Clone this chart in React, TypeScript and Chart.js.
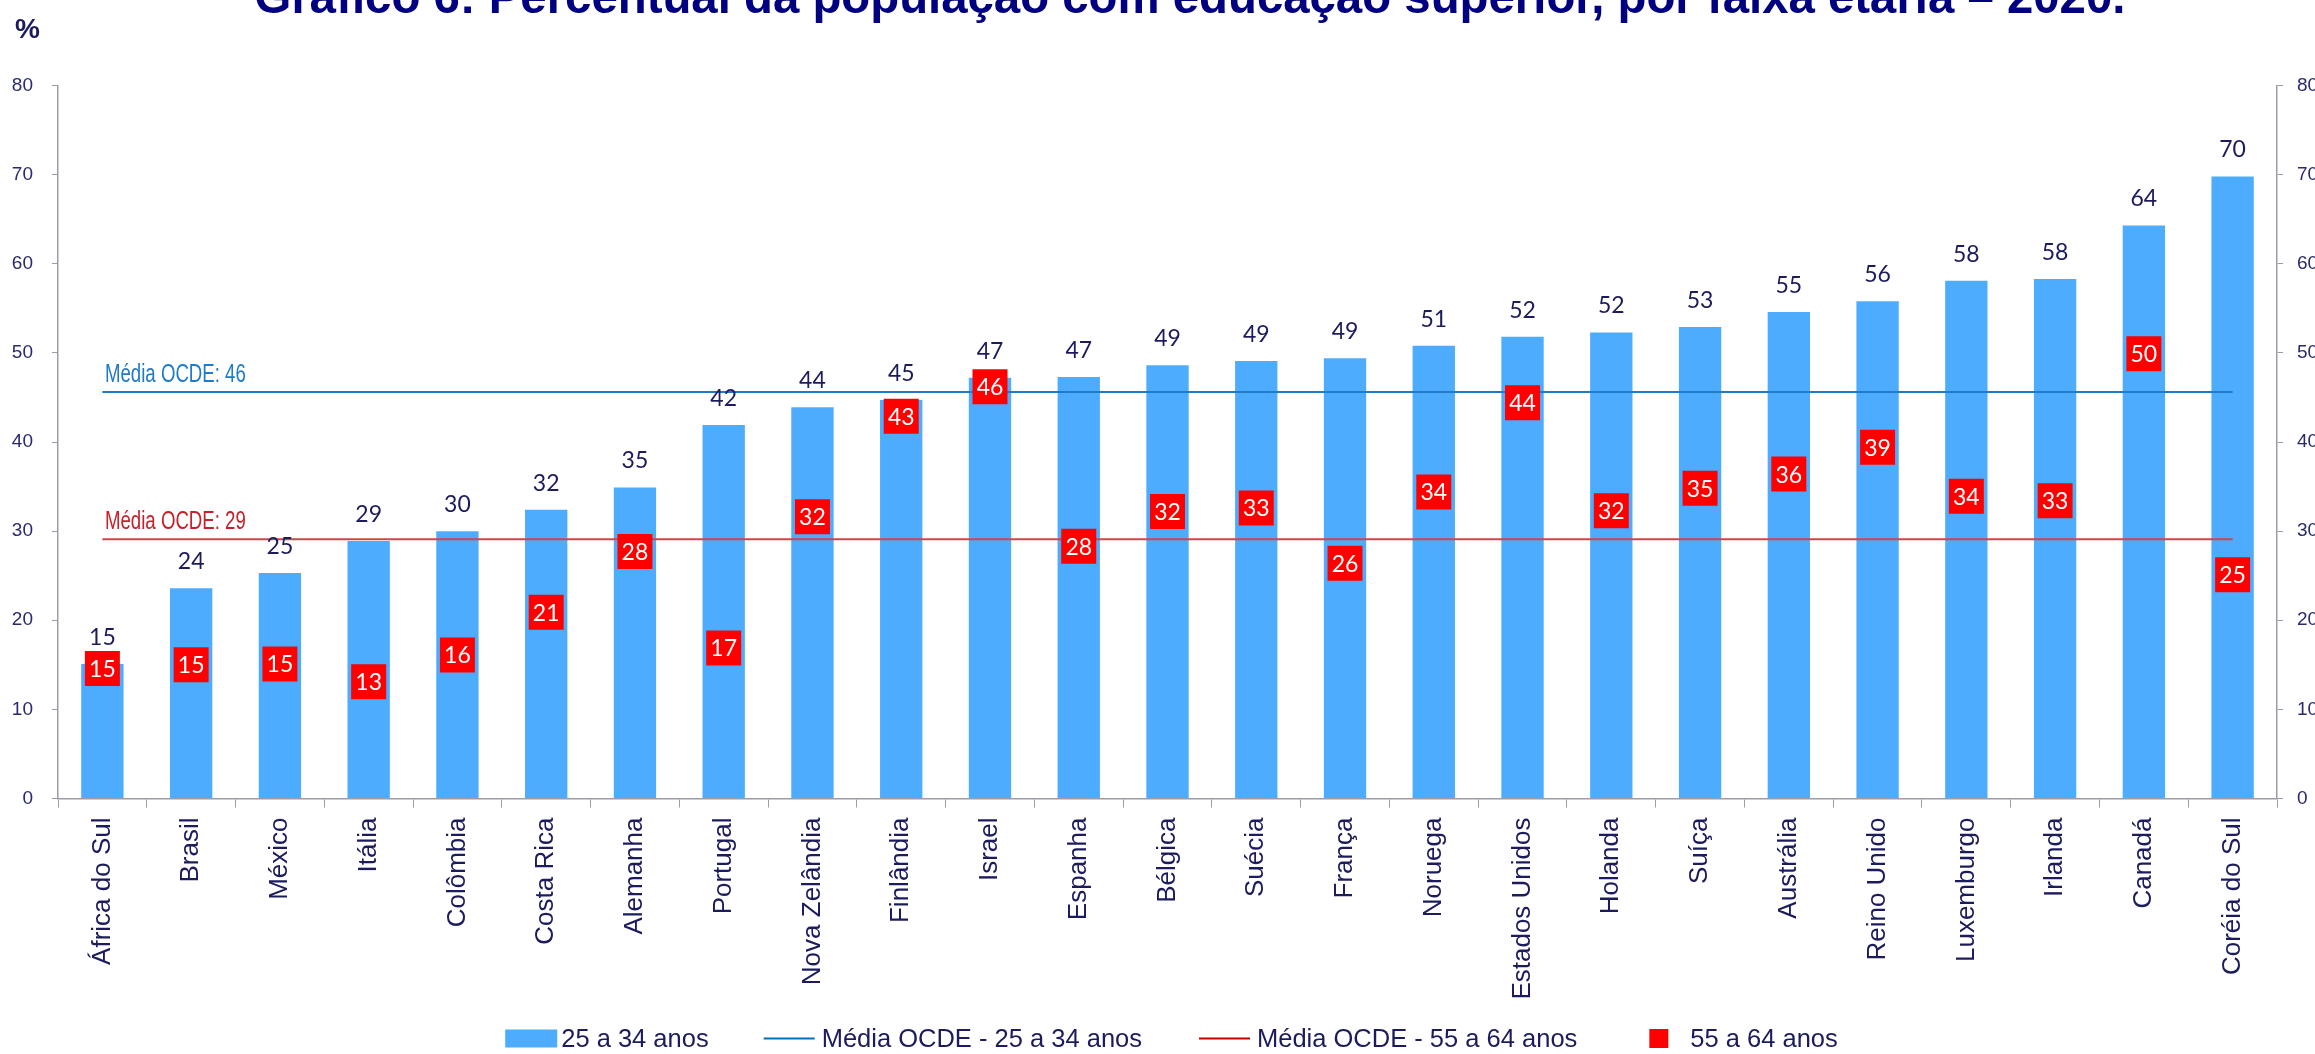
import React, { useEffect, useRef } from 'react';
import { Chart, registerables } from 'chart.js';

Chart.register(...registerables);

const CANVAS_W = 2332;
const CANVAS_H = 1054;

const title = 'Gráfico 6: Percentual da população com educação superior, por faixa etária – 2020.';
const unitLabel = '%';

const categories = [
  'África do Sul', 'Brasil', 'México', 'Itália', 'Colômbia', 'Costa Rica', 'Alemanha',
  'Portugal', 'Nova Zelândia', 'Finlândia', 'Israel', 'Espanha', 'Bélgica', 'Suécia',
  'França', 'Noruega', 'Estados Unidos', 'Holanda', 'Suíça', 'Austrália', 'Reino Unido',
  'Luxemburgo', 'Irlanda', 'Canadá', 'Coréia do Sul',
];

const values2534 = [
  15.1, 23.6, 25.3, 28.9, 30.0, 32.4, 34.9, 41.9, 43.9, 44.7, 47.2, 47.3, 48.6,
  49.1, 49.4, 50.8, 51.8, 52.3, 52.9, 54.6, 55.8, 58.1, 58.3, 64.3, 69.8,
];

const values5564 = [
  14.6, 15.0, 15.1, 13.1, 16.1, 20.9, 27.7, 16.9, 31.6, 42.9, 46.2, 28.3, 32.2,
  32.6, 26.4, 34.4, 44.4, 32.3, 34.8, 36.4, 39.4, 33.9, 33.4, 49.9, 25.1,
];

const oecdAvg2534 = 45.6;
const oecdAvg5564 = 29.1;
const oecdLabel2534 = 'Média OCDE: 46';
const oecdLabel5564 = 'Média OCDE: 29';

const yMin = 0;
const yMax = 80;
const yStep = 10;

const seriesNames = ['25 a 34 anos', 'Média OCDE - 25 a 34 anos', 'Média OCDE - 55 a 64 anos', '55 a 64 anos'];

const NAVY = '#1b1b5e';
const TICK_NAVY = '#2a2a70';
const AXIS_GRAY = '#9c9ca8';
const BAR_BLUE = '#4eacfe';
const LINE_BLUE = '#1f7ac9';
const LINE_RED = '#d0444a';
const LABEL_RED = '#c8202a';
const BOX_RED = '#ff0000';

function condensedText(ctx: CanvasRenderingContext2D, text: string, x: number, y: number, k: number) {
  ctx.save();
  ctx.translate(x, y);
  ctx.scale(k, 1);
  ctx.fillText(text, 0, 0);
  ctx.restore();
}

const overlayPlugin = {
  id: 'overlay',
  afterDatasetsDraw(chart: any) {
    const ctx = chart.ctx as CanvasRenderingContext2D;
    const area = chart.chartArea;
    const ys = chart.scales.y;

    ctx.save();
    // values above bars
    const barMeta = chart.getDatasetMeta(0);
    ctx.font = '23px Lato';
    ctx.fillStyle = NAVY;
    ctx.textAlign = 'center';
    ctx.textBaseline = 'alphabetic';
    barMeta.data.forEach((el: any, i: number) => {
      ctx.fillText(String(Math.round(values2534[i])), el.x, el.y - 19);
    });

    // values in red boxes
    const boxMeta = chart.getDatasetMeta(3);
    ctx.fillStyle = '#ffffff';
    ctx.textBaseline = 'middle';
    boxMeta.data.forEach((el: any, i: number) => {
      ctx.fillText(String(Math.round(values5564[i])), el.x, el.y + 1);
    });

    // OECD average labels (condensed)
    ctx.textAlign = 'left';
    ctx.textBaseline = 'alphabetic';
    ctx.font = '25px "Liberation Sans"';
    ctx.fillStyle = LINE_BLUE;
    condensedText(ctx, oecdLabel2534, area.left + 47, ys.getPixelForValue(oecdAvg2534) - 10, 0.745);
    ctx.fillStyle = LABEL_RED;
    condensedText(ctx, oecdLabel5564, area.left + 47, ys.getPixelForValue(oecdAvg5564) - 10, 0.745);
    ctx.restore();
  },
  afterDraw(chart: any) {
    const ctx = chart.ctx as CanvasRenderingContext2D;
    ctx.save();

    // title (top partially outside the picture, as in the reference)
    const targetW = 1871;
    ctx.font = 'bold 40px "Liberation Sans"';
    const w40 = ctx.measureText(title).width;
    const size = 40 * targetW / w40;
    ctx.font = `bold ${size.toFixed(2)}px "Liberation Sans"`;
    ctx.fillStyle = '#000080';
    ctx.textAlign = 'center';
    ctx.textBaseline = 'alphabetic';
    ctx.fillText(title, 1190, 13);

    // unit label
    ctx.font = 'bold 28px "Liberation Sans"';
    ctx.fillStyle = NAVY;
    ctx.textAlign = 'left';
    ctx.fillText(unitLabel, 15, 38);

    // legend
    ctx.font = '25.5px "Liberation Sans"';
    ctx.textBaseline = 'middle';
    const k = 1;
    const cy = 1038.5;
    const markers = [
      { kind: 'box', w: 52, gapAfterMarker: 4 },
      { kind: 'lineBlue', w: 51, gapAfterMarker: 7 },
      { kind: 'lineRed', w: 51, gapAfterMarker: 7 },
      { kind: 'square', w: 19, gapAfterMarker: 22 },
    ];
    const gapsBetween = [55, 57, 72];
    let total = 0;
    markers.forEach((m, i) => {
      total += m.w + m.gapAfterMarker + k * ctx.measureText(seriesNames[i]).width;
      if (i < gapsBetween.length) total += gapsBetween[i];
    });
    let x = 1171.5 - total / 2;
    markers.forEach((m, i) => {
      if (m.kind === 'box') {
        ctx.fillStyle = BAR_BLUE;
        ctx.fillRect(x, cy - 9, m.w, 18);
      } else if (m.kind === 'square') {
        ctx.fillStyle = BOX_RED;
        ctx.fillRect(x, cy - 9.5, m.w, 19);
      } else {
        ctx.strokeStyle = m.kind === 'lineBlue' ? '#0070c0' : '#c00000';
        ctx.lineWidth = 2;
        ctx.beginPath();
        ctx.moveTo(x, cy);
        ctx.lineTo(x + m.w, cy);
        ctx.stroke();
      }
      x += m.w + m.gapAfterMarker;
      ctx.fillStyle = NAVY;
      condensedText(ctx, seriesNames[i], x, cy + 1, k);
      x += k * ctx.measureText(seriesNames[i]).width;
      if (i < gapsBetween.length) x += gapsBetween[i];
    });

    ctx.restore();
  },
};

export default function App() {
  const canvasRef = useRef<HTMLCanvasElement | null>(null);

  useEffect(() => {
    const canvas = canvasRef.current;
    if (!canvas) return;
    canvas.width = CANVAS_W;
    canvas.height = CANVAS_H;

    const first = categories[0];
    const last = categories[categories.length - 1];

    const chart = new Chart(canvas, {
      type: 'bar',
      data: {
        labels: categories,
        datasets: [
          {
            type: 'bar',
            label: seriesNames[0],
            data: values2534,
            backgroundColor: BAR_BLUE,
            borderWidth: 0,
            categoryPercentage: 1,
            barPercentage: 0.477,
            yAxisID: 'y',
            order: 4,
          } as any,
          {
            type: 'line',
            label: seriesNames[1],
            data: [{ x: first, y: oecdAvg2534 }, { x: last, y: oecdAvg2534 }],
            borderColor: LINE_BLUE,
            borderWidth: 2,
            pointRadius: 0,
            fill: false,
            yAxisID: 'y',
            order: 3,
          } as any,
          {
            type: 'line',
            label: seriesNames[2],
            data: [{ x: first, y: oecdAvg5564 }, { x: last, y: oecdAvg5564 }],
            borderColor: LINE_RED,
            borderWidth: 2,
            pointRadius: 0,
            fill: false,
            yAxisID: 'y',
            order: 2,
          } as any,
          {
            type: 'line',
            label: seriesNames[3],
            data: values5564,
            showLine: false,
            pointStyle: 'rect',
            pointRadius: 24.75,
            pointBackgroundColor: BOX_RED,
            pointBorderWidth: 0,
            pointBorderColor: BOX_RED,
            yAxisID: 'y',
            order: 1,
            clip: false,
          } as any,
        ],
      },
      options: {
        responsive: false,
        devicePixelRatio: 1,
        animation: false,
        events: [],
        layout: { padding: { top: 85.5, left: 0, right: 0, bottom: 0 } },
        plugins: {
          legend: { display: false },
          tooltip: { enabled: false },
          title: { display: false },
        },
        scales: {
          x: {
            type: 'category',
            offset: true,
            grid: { drawOnChartArea: false, drawTicks: true, tickLength: 9, color: AXIS_GRAY, offset: true },
            border: { color: AXIS_GRAY, width: 1.5 },
            ticks: {
              color: NAVY,
              font: { family: '"Liberation Sans", Arial', size: 26 },
              minRotation: 90,
              maxRotation: 90,
              autoSkip: false,
              padding: 10,
            },
            afterFit: (s: any) => { s.height = CANVAS_H - 798.5; },
          },
          y: {
            position: 'left',
            min: yMin,
            max: yMax,
            grid: { drawOnChartArea: false, drawTicks: true, tickLength: 6, color: AXIS_GRAY },
            border: { color: AXIS_GRAY, width: 1.5 },
            ticks: {
              stepSize: yStep,
              color: TICK_NAVY,
              font: { family: '"Liberation Sans"', size: 19 },
              padding: 19,
            },
            afterFit: (s: any) => { s.width = 58; },
          },
          y2: {
            position: 'right',
            min: yMin,
            max: yMax,
            grid: { drawOnChartArea: false, drawTicks: true, tickLength: 6, color: AXIS_GRAY },
            border: { color: AXIS_GRAY, width: 1.5 },
            ticks: {
              stepSize: yStep,
              color: TICK_NAVY,
              font: { family: '"Liberation Sans"', size: 19 },
              padding: 14,
            },
            afterFit: (s: any) => { s.width = CANVAS_W - 2277; },
          },
        },
      } as any,
      plugins: [overlayPlugin],
    });

    return () => chart.destroy();
  }, []);

  return (
    <div
      style={{
        position: 'fixed',
        left: 0,
        top: 0,
        width: 2315,
        height: 1054,
        overflow: 'hidden',
        background: '#ffffff',
      }}
    >
      <canvas
        ref={canvasRef}
        style={{ display: 'block', width: CANVAS_W + 'px', height: CANVAS_H + 'px' }}
      />
    </div>
  );
}
